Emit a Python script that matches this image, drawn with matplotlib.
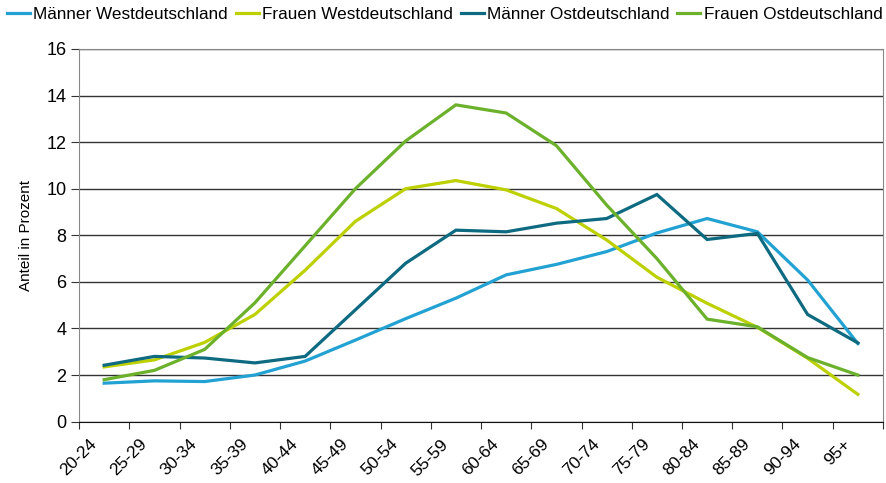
import matplotlib.pyplot as plt
from matplotlib.transforms import ScaledTranslation

plt.rcParams['font.family'] = ['Liberation Sans', 'DejaVu Sans']

altersgruppen = ['20-24', '25-29', '30-34', '35-39', '40-44', '45-49', '50-54', '55-59',
                 '60-64', '65-69', '70-74', '75-79', '80-84', '85-89', '90-94', '95+']

maenner_west = [1.65, 1.75, 1.72, 2.0, 2.6, 3.5, 4.42, 5.3,
                6.3, 6.75, 7.3, 8.1, 8.72, 8.15, 6.08, 3.35]
frauen_west = [2.35, 2.65, 3.4, 4.6, 6.5, 8.6, 10.0, 10.35,
               9.95, 9.15, 7.8, 6.2, 5.08, 4.05, 2.72, 1.17]
maenner_ost = [2.42, 2.8, 2.73, 2.52, 2.8, 4.8, 6.8, 8.22,
               8.15, 8.52, 8.72, 9.75, 7.82, 8.08, 4.6, 3.38]
frauen_ost = [1.8, 2.2, 3.1, 5.1, 7.55, 10.0, 12.05, 13.6,
              13.25, 11.85, 9.3, 7.0, 4.4, 4.07, 2.75, 2.0]

serien = [
    ('Männer Westdeutschland', maenner_west, '#22a2d3'),
    ('Frauen Westdeutschland', frauen_west, '#bdd000'),
    ('Männer Ostdeutschland', maenner_ost, '#0d6a81'),
    ('Frauen Ostdeutschland', frauen_ost, '#6bb12b'),
]

fig = plt.figure(figsize=(8.86, 4.83), dpi=100)
ax = fig.add_axes([0.0892, 0.1271, 0.9074, 0.7715])

x = list(range(len(altersgruppen)))
for name, werte, farbe in serien:
    ax.plot(x, werte, color=farbe, lw=2.3, label=name, solid_joinstyle='miter')

ax.set_xlim(-0.5, len(altersgruppen) - 0.5)
ax.set_ylim(0, 16)
ax.set_yticks(range(0, 17, 2))
ax.grid(axis='y', color='#333333', lw=1)
ax.set_axisbelow(True)

ax.set_xticks([i - 0.5 for i in range(len(altersgruppen) + 1)])
ax.set_xticklabels([])
ax.set_xticks(x, minor=True)
ax.set_xticklabels(altersgruppen, minor=True, rotation=45, ha='right', va='top',
                   rotation_mode='anchor', fontsize=12.5)
ax.tick_params(axis='x', which='minor', length=0, pad=10)
ax.tick_params(axis='x', which='major', length=5, color='#333333')
ax.tick_params(axis='y', length=6, color='#333333', labelsize=13, pad=3)

versatz = ScaledTranslation(-15 / 100, -1 / 100, fig.dpi_scale_trans)
for lbl in ax.get_xticklabels(minor=True):
    lbl.set_transform(lbl.get_transform() + versatz)

for s in ['left', 'right', 'top']:
    ax.spines[s].set_color('#888888')
ax.spines['bottom'].set_color('#111111')

ax.set_ylabel('Anteil in Prozent', fontsize=11, labelpad=10)

fig.legend(loc='upper left', bbox_to_anchor=(0.0, 1.0), ncol=4, frameon=False,
           fontsize=12.3, handlelength=1.35, handletextpad=0.2, columnspacing=0.45,
           borderaxespad=0.2, borderpad=0.2)

fig.savefig('out.png', dpi=100)
